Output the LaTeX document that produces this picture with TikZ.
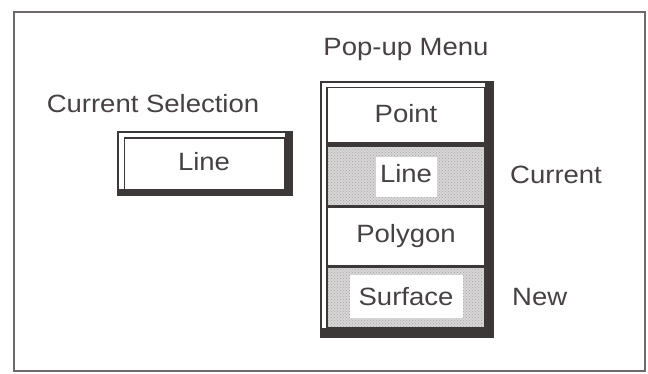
\documentclass[tikz,border=0pt]{standalone}
\usepackage{fontspec}
\setmainfont{Liberation Sans}[FakeStretch=1.1]
\usetikzlibrary{patterns}
\definecolor{ink}{HTML}{3C3838}
\definecolor{txt}{HTML}{464242}
\definecolor{frame}{HTML}{6E6A6A}
\definecolor{stip}{HTML}{D8D6D6}
\begin{document}
\begin{tikzpicture}[x=1pt,y=-1pt,
  lbl/.style={inner sep=0pt,anchor=base,text=txt,font=\fontsize{25}{28}\selectfont},
  lblw/.style={lbl,anchor=base west},
  thinline/.style={draw=ink,line width=1.3pt},
  band/.style={fill=ink},
  stipple/.style={fill=stip,postaction={pattern=crosshatch dots,pattern color=black!35}},
  sep/.style={draw=ink}]
\useasboundingbox (0,0) rectangle (648,373);
\fill[white] (0,0) rectangle (648,373);
% outer frame
\draw[draw=frame,line width=1.8pt] (14,12) rectangle (645,371);

% titles
\node[lbl] (poptitle) at (406,55) {Pop-up Menu};
\node[lbl] (curtitle) at (153,112) {Current Selection};

% current selection box
\fill[band] (285,132) rectangle (292,195);
\fill[band] (118,189) rectangle (292,195);
\draw[thinline] (118,132) rectangle (292,195);
\draw[thinline] (124.5,138) rectangle (285,189.5);
\node[lbl] (selline) at (204,170) {Line};

% pop-up menu frame
\fill[band] (485,82) rectangle (493,337);
\fill[band] (321,328) rectangle (493,337);
% stippled items
\path[stipple] (327,147) rectangle (485,205);
\path[stipple] (327,268) rectangle (485,328);
\fill[white] (376,157) rectangle (437,197);
\fill[white] (350,275) rectangle (463,318);
\draw[thinline] (321,82) rectangle (493,337);
\draw[thinline] (327,87.5) rectangle (485,328);
% separators
\draw[sep,line width=4.5pt] (327,144.5) -- (485,144.5);
\draw[sep,line width=3pt] (327,206.5) -- (485,206.5);
\draw[sep,line width=3pt] (327,266.5) -- (485,266.5);

% item labels
\node[lbl] (point) at (406,122) {Point};
\node[lbl] (line) at (406,182) {Line};
\node[lbl] (polygon) at (406,242) {Polygon};
\node[lbl] (surface) at (406,305) {Surface};

% side labels
\node[lblw] (current) at (510,183) {Current};
\node[lblw] (new) at (512,305) {New};
\end{tikzpicture}
\end{document}
